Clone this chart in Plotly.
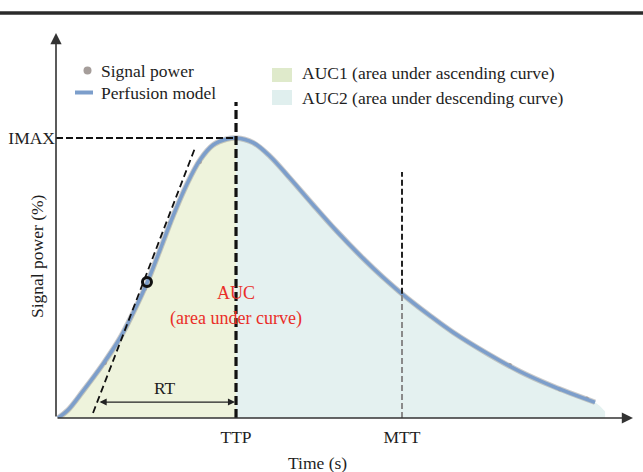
import plotly.graph_objects as go

# ---------------- data ----------------
# perfusion model: ascending branch (time, signal %)
t_rise = [0.21, 1.25, 2.81, 4.89, 6.66, 8.01, 9.46, 10.81, 12.17, 13.62, 14.97, 16.33, 17.78, 18.72]
s_rise = [0.0, 2.86, 9.64, 19.29, 28.57, 37.5, 48.21, 60.0, 72.14, 83.57, 92.14, 97.5, 99.64, 100.0]
# descending branch
t_fall = [18.72, 20.49, 22.25, 24.33, 26.72, 29.22, 31.92, 34.00, 35.98, 38.89, 41.28, 44.82, 48.25, 51.68, 56.05]
s_fall = [100.0, 98.36, 93.5, 85.64, 76.21, 66.61, 57.04, 50.25, 44.36, 36.57, 30.64, 23.11, 16.61, 11.32, 5.61]
# extent of the shaded AUC2 area beyond the model line
auc2_tail_t = [57.1]
auc2_tail_s = [2.3]
# measured signal power samples
sig_t = [5.1, 9.25, 11.85, 14.97, 47.2, 52.4, 55.2]
sig_s = [19.6, 46.2, 69.6, 91.4, 18.9, 10.2, 7.0]
# key parameters
TTP = 18.72
MTT = 35.98
IMAX = 100.0
MTT_S = 44.36
tangent_t = [3.85, 14.45]
tangent_s = [1.8, 96.4]
infl_t = [9.46]
infl_s = [48.6]
rt_start = 4.37
rt_y = 5.7
x_ticks = ["TTP", "MTT"]
y_ticks = ["IMAX"]

# ---------------- layout constants ----------------
W, H = 643, 472
ML, MR, MT, MB = 56, 10, 33, 54
XMAX, YMAX = 60.0, 137.5
PW, PH = W - ML - MR, H - MT - MB

def pxx(x):
    return (x - ML) / PW

def pxy(y):
    return (H - MB - y) / PH

def dx(x):
    return (x - ML) / PW * XMAX

def dy(y):
    return (H - MB - y) / PH * YMAX

FONT = "Liberation Serif"
TXT = "#1e1e1e"
BLUE = "#7c9ecb"
GREEN_FILL = "#eef3dc"
BLUE_FILL = "#e4f1f0"
GREEN_SW = "#dfeacb"
BLUE_SW = "#e0efee"
DOT = "#a59d9a"
RED = "#ea2e28"

fig = go.Figure()

# shaded areas
fig.add_trace(go.Scatter(x=t_rise, y=s_rise, mode="lines", fill="tozeroy",
                         fillcolor=GREEN_FILL, line=dict(width=0, shape="spline"),
                         showlegend=False, hoverinfo="skip"))
fig.add_trace(go.Scatter(x=t_fall + auc2_tail_t, y=s_fall + auc2_tail_s, mode="lines",
                         fill="tozeroy", fillcolor=BLUE_FILL,
                         line=dict(width=0, shape="spline"),
                         showlegend=False, hoverinfo="skip"))

# signal samples
fig.add_trace(go.Scatter(x=sig_t, y=sig_s, mode="markers",
                         marker=dict(size=4, color="#b5aca8"), showlegend=False))

t_all = t_rise + t_fall[1:]
s_all = s_rise + s_fall[1:]
# perfusion model line (grey halo + blue)
fig.add_trace(go.Scatter(x=t_all, y=s_all, mode="lines",
                         line=dict(color="rgba(150,150,150,0.5)", width=5.5, shape="spline"),
                         showlegend=False, hoverinfo="skip"))
fig.add_trace(go.Scatter(x=t_all, y=s_all, mode="lines",
                         line=dict(color=BLUE, width=3.5, shape="spline"),
                         showlegend=False))

# tangent line
fig.add_trace(go.Scatter(x=tangent_t, y=tangent_s, mode="lines",
                         line=dict(color="#111", width=1.8, dash="7px,4px"),
                         showlegend=False))
# inflection marker
fig.add_trace(go.Scatter(x=infl_t, y=infl_s, mode="markers",
                         marker=dict(symbol="circle-open", size=9, color="#111",
                                     line=dict(width=3, color="#111")),
                         showlegend=False))

shapes = []
# TTP line
shapes.append(dict(type="line", xref="x", yref="y", x0=TTP, x1=TTP, y0=0, y1=dy(102),
                   line=dict(color="#111", width=3.2, dash="9px,4px")))
# IMAX line
shapes.append(dict(type="line", xref="x", yref="y", x0=0, x1=TTP, y0=IMAX, y1=IMAX,
                   line=dict(color="#111", width=2, dash="7px,3px")))
# MTT line
shapes.append(dict(type="line", xref="x", yref="y", x0=MTT, x1=MTT, y0=MTT_S, y1=dy(172),
                   line=dict(color="#222", width=2, dash="6px,3px")))
shapes.append(dict(type="line", xref="x", yref="y", x0=MTT, x1=MTT, y0=0, y1=MTT_S,
                   line=dict(color="#8a8a8a", width=2, dash="6px,3px")))
# top rule
shapes.append(dict(type="line", xref="paper", yref="paper", x0=pxx(0), x1=pxx(W),
                   y0=pxy(13), y1=pxy(13), line=dict(color="#2b2b2b", width=3.5)))
# legend swatches
shapes.append(dict(type="circle", xref="paper", yref="paper", x0=pxx(83.5), x1=pxx(91.5),
                   y0=pxy(74.5), y1=pxy(66.5), fillcolor=DOT, line=dict(width=0)))
shapes.append(dict(type="line", xref="paper", yref="paper", x0=pxx(75), x1=pxx(93),
                   y0=pxy(92.5), y1=pxy(92.5), line=dict(color=BLUE, width=4)))
shapes.append(dict(type="rect", xref="paper", yref="paper", x0=pxx(272), x1=pxx(292),
                   y0=pxy(82), y1=pxy(68), fillcolor=GREEN_SW, line=dict(width=0)))
shapes.append(dict(type="rect", xref="paper", yref="paper", x0=pxx(272), x1=pxx(292),
                   y0=pxy(105), y1=pxy(90), fillcolor=BLUE_SW, line=dict(width=0)))

ann = []
f = dict(family=FONT, size=17.5, color=TXT)
# axes with arrows
ann.append(dict(x=XMAX, y=0, ax=0, ay=0, xref="x", yref="y", axref="x", ayref="y",
                text="", showarrow=True, arrowhead=2, arrowsize=1.4, arrowwidth=1.6,
                arrowcolor="#333", standoff=0))
ann.append(dict(x=0, y=YMAX, ax=0, ay=0, xref="x", yref="y", axref="x", ayref="y",
                text="", showarrow=True, arrowhead=2, arrowsize=1.4, arrowwidth=1.6,
                arrowcolor="#333", standoff=0))
# RT arrow
ann.append(dict(x=TTP - 0.1, y=rt_y, ax=rt_start, ay=rt_y, xref="x", yref="y", axref="x",
                ayref="y", text="", showarrow=True, arrowhead=2, arrowside="end+start",
                arrowsize=1.1, arrowwidth=1.3, arrowcolor="#222", standoff=0, startstandoff=0))
ann.append(dict(x=dx(165), y=dy(388), xref="x", yref="y", text="RT", showarrow=False, font=f,
                xanchor="center", yanchor="middle"))
# AUC text
ann.append(dict(x=TTP, y=dy(293), xref="x", yref="y", text="AUC", showarrow=False,
                xanchor="center", yanchor="middle",
                font=dict(family=FONT, size=18, color=RED)))
ann.append(dict(x=TTP, y=dy(318), xref="x", yref="y", text="(area under curve)", showarrow=False,
                xanchor="center", yanchor="middle",
                font=dict(family=FONT, size=18, color=RED)))
# axis titles
ann.append(dict(x=pxx(317), y=pxy(463), xref="paper", yref="paper", text="Time (s)",
                xanchor="center", yanchor="middle", showarrow=False, font=f))
ann.append(dict(x=pxx(37), y=pxy(256), xref="paper", yref="paper", text="Signal power (%)",
                xanchor="center", yanchor="middle", showarrow=False, textangle=-90, font=f))
# legend texts
for txt, xl, yc in [("Signal power", 99, 70.7), ("Perfusion model", 99, 92.7),
                    ("AUC1 (area under ascending curve)", 300, 73),
                    ("AUC2 (area under descending curve)", 300, 98)]:
    ann.append(dict(x=pxx(xl), y=pxy(yc), xref="paper", yref="paper", text=txt,
                    xanchor="left", yanchor="middle", showarrow=False, font=f))

fig.update_layout(
    template="none",
    width=W, height=H, margin=dict(l=ML, r=MR, t=MT, b=MB, pad=0, autoexpand=False),
    paper_bgcolor="white", plot_bgcolor="white",
    shapes=shapes, annotations=ann, showlegend=False,
    font=dict(family=FONT, size=17.5, color=TXT),
    xaxis=dict(range=[0, XMAX], showgrid=False, zeroline=False, showline=False,
               automargin=False,
               tickvals=[TTP, MTT], ticktext=x_ticks, ticks="", ticklabelstandoff=6,
               tickfont=f, fixedrange=True),
    yaxis=dict(range=[0, YMAX], showgrid=False, zeroline=False, showline=False,
               automargin=False,
               tickvals=[IMAX], ticktext=y_ticks, ticks="", ticklabelstandoff=0,
               tickfont=f, fixedrange=True),
)

fig.write_html("out.html", config={"displayModeBar": False},
               post_script="document.body.style.margin='0';document.body.style.overflow='hidden';")
